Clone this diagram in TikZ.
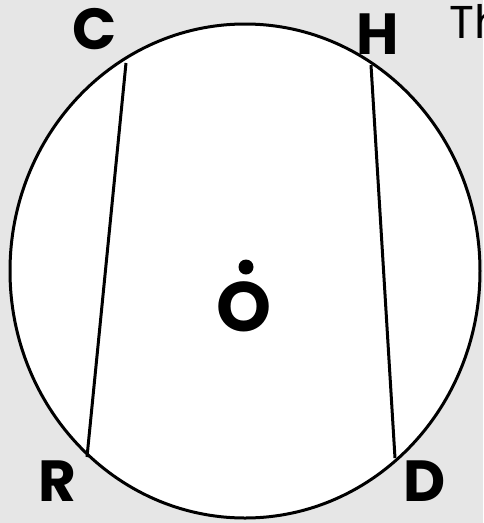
\documentclass[tikz,border=0pt]{standalone}
\usepackage{fontspec}
\setmainfont{Poppins}
\definecolor{bgc}{RGB}{230,230,230}
\begin{document}
\begin{tikzpicture}[x=1pt,y=-1pt,
  lbl/.style={font=\fontsize{58}{58}\selectfont\bfseries, inner sep=0pt, anchor=center},
  ln/.style={line width=3pt, black}]
\fill[bgc] (0,0) rectangle (483,523);
\useasboundingbox (0,0) rectangle (483,523);
% circle
\draw[ln, fill=white] (245,271) ellipse [x radius=235, y radius=247];
% chord endpoints
\coordinate (c) at (126,63);
\coordinate (r) at (87,457);
\coordinate (h) at (371,65);
\coordinate (d) at (395,458);
\draw[ln] (c) -- (r);
\draw[ln] (h) -- (d);
% labels
\node[lbl] (lc) at (95,29) {C};
\node[lbl] (lh) at (378,34) {H};
\node[lbl] (lr) at (57,481) {R};
\node[lbl] (ld) at (425,481) {D};
% centre
\fill (246,267) circle [radius=7.5];
\node[lbl, font=\fontsize{70}{70}\selectfont\bfseries] (lo) at (244,307) {O};
% cut text
\begin{scope}
\clip (0,0) rectangle (483,523);
\node[font=\fontsize{46}{46}\selectfont, inner sep=0pt, anchor=west] (th) at (449,21) {Th};
\end{scope}
\end{tikzpicture}
\end{document}
